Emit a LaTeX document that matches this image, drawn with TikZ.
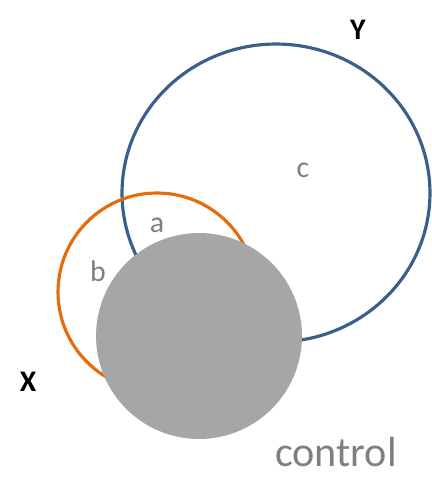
\documentclass[tikz,border=0pt]{standalone}
\usepackage{fontspec}
\setmainfont{Carlito}
\usetikzlibrary{shapes.geometric}
\definecolor{setblue}{HTML}{3B5E8C}
\definecolor{setorange}{HTML}{E46C0A}
\definecolor{ctrlgray}{HTML}{A6A6A6}
\definecolor{labelgray}{HTML}{7F7F7F}
\begin{document}
\begin{tikzpicture}[x=0.02cm,y=-0.02cm]
        \useasboundingbox (0,0) rectangle (432,501);
        %% Sets
        \node[draw=setblue,line width=1.8pt,ellipse,inner sep=0pt,minimum width=6.16cm,minimum height=5.96cm] (Yset) at (276,193) {};
        \node[draw=setorange,line width=1.8pt,circle,inner sep=0pt,minimum size=3.96cm] (Xset) at (157,292) {};
        %% Control
        \node[fill=ctrlgray,circle,inner sep=0pt,minimum size=4.12cm] (ctrl) at (199,336) {};
        %% Labels
        \node[font=\fontsize{17}{20}\selectfont\bfseries] (Ylab) at (358,30) {Y};
        \node[font=\fontsize{17}{20}\selectfont\bfseries] (Xlab) at (28,382) {X};
        \node[text=labelgray,font=\fontsize{17}{20}\selectfont] (clab) at (303,170) {c};
        \node[text=labelgray,font=\fontsize{17}{20}\selectfont] (alab) at (157,225) {a};
        \node[text=labelgray,font=\fontsize{17}{20}\selectfont] (blab) at (98,271) {b};
        \node[text=labelgray,font=\fontsize{24}{28}\selectfont] (ctrllab) at (336,452) {control};
    \end{tikzpicture}
\end{document}
